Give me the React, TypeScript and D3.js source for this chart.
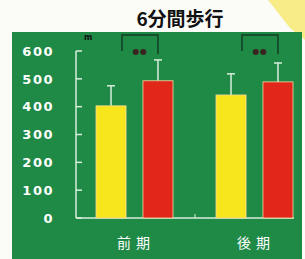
import React from "react";
import * as d3 from "d3";

// 6-minute walk (m), before / after
const categories = ["前期", "後期"];
const seriesKeys = ["a", "b"];
const meanA = [403, 442];
const errA = [475, 518];
const meanB = [493, 489];
const errB = [568, 557];
const yTicks = [0, 100, 200, 300, 400, 500, 600];
const sigLabels = ["●●", "●●"];

const W = 305;
const H = 259;
const green = "#1e8a46";
const axisCol = "#d9eedc";
const colors: Record<string, string> = { a: "#f7e61c", b: "#e1261a" };

const App = () => {
  const y = d3.scaleLinear().domain([0, 600]).range([218, 51]);
  const x0 = d3.scaleBand().domain(categories).range([74, 314]).padding(0);
  const x1 = d3
    .scaleBand()
    .domain(seriesKeys)
    .range([22, 99])
    .paddingInner(0.36)
    .paddingOuter(0);

  const means: Record<string, number[]> = { a: meanA, b: meanB };
  const errs: Record<string, number[]> = { a: errA, b: errB };

  return (
    <svg
      width={W}
      height={H}
      style={{ position: "absolute", left: 0, top: 0, background: "#fbfbf8" }}
    >
      {/* decoration */}
      <polygon points="268,0 305,0 305,40 290,28" fill="#f6e86a" opacity={0.8} />
      <rect x={12} y={32} width={290} height={227} fill={green} />
      <text
        x={180}
        y={26}
        textAnchor="middle"
        fontFamily="'Noto Sans CJK JP', sans-serif"
        fontWeight="bold"
        fontSize={19}
        fill="#111"
      >
        6分間歩行
      </text>
      <text x={84} y={40} fontSize={8} fontFamily="DejaVu Sans" fill="#111" fontWeight="bold">
        m
      </text>

      {/* y axis */}
      <line x1={76} x2={76} y1={y(600)} y2={y(0)} stroke={axisCol} strokeWidth={1.5} />
      <line x1={76} x2={294} y1={y(0)} y2={y(0)} stroke={axisCol} strokeWidth={1.5} />
      {yTicks.map((t) => (
        <g key={t}>
          <line x1={76} x2={82} y1={y(t)} y2={y(t)} stroke={axisCol} strokeWidth={1.5} />
          <text
            x={54}
            y={y(t)}
            dy="0.36em"
            textAnchor="end"
            fontFamily="'DejaVu Sans', sans-serif"
            fontWeight="bold"
            fontSize={13}
            letterSpacing={1.5}
            fill="#fff"
          >
            {t}
          </text>
        </g>
      ))}
      <line x1={195} x2={195} y1={y(0)} y2={y(0) - 4} stroke={axisCol} strokeWidth={1} />

      {categories.map((c, i) => {
        const bx = x0(c)!;
        const ax = bx + x1("a")!;
        const bxr = bx + x1("b")!;
        const bw = x1.bandwidth();
        const topY = 35;
        const lx = ax + 26;
        const rx = bxr + 15;
        const mid = (lx + rx) / 2;
        return (
          <g key={c}>
            {seriesKeys.map((k) => {
              const left = bx + x1(k)!;
              const cx = left + bw / 2;
              return (
                <g key={k}>
                  <line
                    x1={cx}
                    x2={cx}
                    y1={y(means[k][i])}
                    y2={y(errs[k][i])}
                    stroke={axisCol}
                    strokeWidth={1.5}
                  />
                  <line
                    x1={cx - 4}
                    x2={cx + 4}
                    y1={y(errs[k][i])}
                    y2={y(errs[k][i])}
                    stroke={axisCol}
                    strokeWidth={1.5}
                  />
                  <rect
                    x={left}
                    y={y(means[k][i])}
                    width={bw}
                    height={y(0) - y(means[k][i])}
                    fill={colors[k]}
                    stroke="#f4d9a0"
                    strokeWidth={0.8}
                  />
                </g>
              );
            })}
            <path
              d={`M${lx},${topY + 16} V${topY} H${rx} V${topY + 19}`}
              fill="none"
              stroke="#143d24"
              strokeWidth={1.5}
            />
            <text
              x={mid}
              y={topY + 16}
              dy="0.35em"
              textAnchor="middle"
              fontFamily="'DejaVu Sans', sans-serif"
              fontSize={8}
              letterSpacing={0.5}
              fill="#3b2420"
            >
              {sigLabels[i]}
            </text>
            <text
              x={bx + 62}
              y={248}
              textAnchor="middle"
              fontFamily="'Noto Sans CJK JP', sans-serif"
              fontSize={14}
              letterSpacing={5}
              fill="#fff"
            >
              {c}
            </text>
          </g>
        );
      })}
    </svg>
  );
};

export default App;
